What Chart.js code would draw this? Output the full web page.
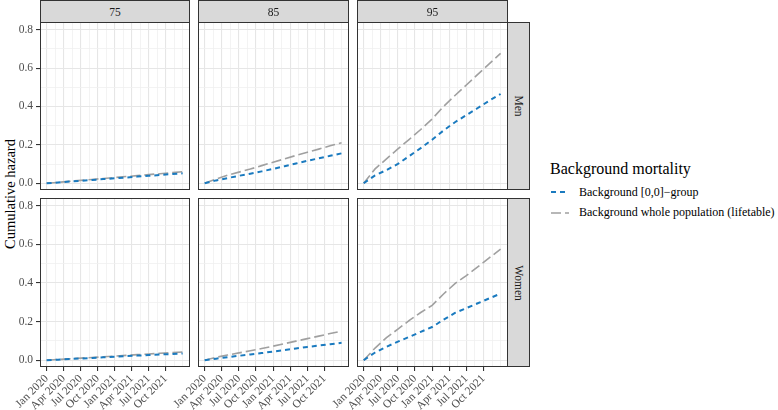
<!DOCTYPE html>
<html>
<head>
<meta charset="utf-8">
<script src="https://cdn.jsdelivr.net/npm/chart.js@4.4.0/dist/chart.umd.min.js"></script>
<style>
  body { margin: 0; background: #fff; font-family: "Liberation Serif", "Times New Roman", Times, "DejaVu Serif", serif; }
  #wrap { position: relative; width: 778px; height: 410px; overflow: hidden; }
  .box { position: absolute; }
  .strip { position: absolute; background: #d9d9d9; border: 1px solid #333; box-sizing: border-box;
           color: #1a1a1a; font-size: 11.5px; display: flex; align-items: center; justify-content: center; }
  .strip.v span { display: inline-block; transform: rotate(90deg); white-space: nowrap; }
  #ytitle { position: absolute; left: -90px; top: 185px; width: 200px; height: 18px; line-height: 18px;
            text-align: center; font-size: 14.5px; color: #000; transform: rotate(-90deg); }
  #legend { position: absolute; left: 550px; top: 160px; color: #000; }
  #legend .title { font-size: 16px; line-height: 18px; margin-bottom: 4px; white-space: nowrap; }
  #legend .item { display: flex; align-items: center; height: 20.5px; font-size: 12px; white-space: nowrap; }
  #legend svg { margin-left: 1px; margin-right: 10px; }
</style>
</head>
<body>
<div id="wrap">
  <div id="ytitle">Cumulative hazard</div>
  <div id="legend"></div>
</div>
<script>
// months since Jan 2020
const months = [0, 2, 4, 6, 8, 10, 12, 14, 16, 18, 20, 22, 24];

const ageGroups = ['75', '85', '95'];
const sexes = ['Men', 'Women'];
const seriesNames = ['Background [0,0]\u2212group', 'Background whole population (lifetable)'];

// Men, background [0,0]-group
const men75Group = [0, 0.004, 0.009, 0.013, 0.017, 0.022, 0.026, 0.030, 0.035, 0.039, 0.043, 0.048, 0.052];
const men85Group = [0, 0.015, 0.027, 0.039, 0.050, 0.062, 0.075, 0.089, 0.103, 0.117, 0.130, 0.143, 0.156];
const men95Group = [0, 0.041, 0.069, 0.101, 0.142, 0.183, 0.227, 0.275, 0.318, 0.355, 0.392, 0.430, 0.465];
// Men, whole population lifetable
const men75Life = [0, 0.005, 0.010, 0.015, 0.020, 0.025, 0.030, 0.035, 0.040, 0.045, 0.050, 0.055, 0.060];
const men85Life = [0, 0.022, 0.042, 0.058, 0.074, 0.092, 0.110, 0.127, 0.145, 0.162, 0.178, 0.195, 0.211];
const men95Life = [0, 0.075, 0.127, 0.179, 0.229, 0.280, 0.335, 0.400, 0.457, 0.512, 0.567, 0.622, 0.677];
// Women, background [0,0]-group
const women75Group = [0, 0.003, 0.006, 0.009, 0.012, 0.015, 0.018, 0.021, 0.024, 0.027, 0.030, 0.032, 0.035];
const women85Group = [0, 0.008, 0.016, 0.023, 0.030, 0.037, 0.045, 0.053, 0.061, 0.069, 0.076, 0.083, 0.090];
const women95Group = [0, 0.040, 0.070, 0.096, 0.121, 0.147, 0.172, 0.210, 0.245, 0.270, 0.295, 0.320, 0.345];
// Women, whole population lifetable
const women75Life = [0, 0.004, 0.007, 0.011, 0.014, 0.018, 0.021, 0.025, 0.029, 0.032, 0.036, 0.039, 0.043];
const women85Life = [0, 0.015, 0.027, 0.038, 0.049, 0.061, 0.073, 0.086, 0.099, 0.112, 0.125, 0.138, 0.151];
const women95Life = [0, 0.063, 0.117, 0.161, 0.206, 0.247, 0.284, 0.343, 0.397, 0.438, 0.483, 0.530, 0.575];

const xTickMonths = [0, 3, 6, 9, 12, 15, 18, 21];
const xTickLabels = ['Jan 2020', 'Apr 2020', 'Jul 2020', 'Oct 2020', 'Jan 2021', 'Apr 2021', 'Jul 2021', 'Oct 2021'];
const xMinorMonths = [1.5, 4.5, 7.5, 10.5, 13.5, 16.5, 19.5, 22.5, 24];
const yTicks = [0, 0.2, 0.4, 0.6, 0.8];
const yTickLabels = ['0.0', '0.2', '0.4', '0.6', '0.8'];
const yMinor = [0.1, 0.3, 0.5, 0.7];

const groupData = [[men75Group, men85Group, men95Group], [women75Group, women85Group, women95Group]];
const lifeData = [[men75Life, men85Life, men95Life], [women75Life, women85Life, women95Life]];

const blue = '#1a7abf';
const grey = '#a0a0a0';
const font = { family: '"Liberation Serif", "Times New Roman", "DejaVu Serif", serif', size: 11.5 };

// panel geometry (px)
const colX = [[40, 190], [198, 349], [357, 508]];
const rowY = [[22, 190], [198, 367]];
const H = 410;

const wrap = document.getElementById('wrap');

const panelBorder = {
  id: 'panelBorder',
  afterDraw(chart) {
    const { ctx, chartArea: a } = chart;
    ctx.save();
    ctx.strokeStyle = '#333';
    ctx.lineWidth = 1;
    ctx.strokeRect(a.left + 0.5, a.top + 0.5, a.right - a.left - 1, a.bottom - a.top - 1);
    ctx.restore();
  }
};

const xAll = xTickMonths.concat(xMinorMonths).sort((a, b) => a - b);
const yAll = yTicks.concat(yMinor).sort((a, b) => a - b);

function makePanel(r, c) {
  const left = c === 0 ? 0 : (r === 1 ? colX[c][0] - 45 : colX[c][0]);
  const padLeft = c === 0 ? 0 : (r === 1 ? 45 : 0);
  const yWidth = c === 0 ? 40 : 0;
  const top = rowY[r][0];
  const height = r === 1 ? H - top : rowY[r][1] - top;
  const xHeight = r === 1 ? H - rowY[r][1] : 0;
  const width = colX[c][1] - left;

  const box = document.createElement('div');
  box.className = 'box';
  Object.assign(box.style, { left: left + 'px', top: top + 'px', width: width + 'px', height: height + 'px' });
  const cv = document.createElement('canvas');
  box.appendChild(cv);
  wrap.appendChild(box);

  const showX = r === 1;
  const showY = c === 0;

  new Chart(cv, {
    type: 'line',
    data: {
      datasets: [
        {
          label: seriesNames[0],
          data: months.map((m, i) => ({ x: m, y: groupData[r][c][i] })),
          borderColor: blue, borderWidth: 2, borderDash: [5, 4],
          pointRadius: 0, tension: 0, fill: false
        },
        {
          label: seriesNames[1],
          data: months.map((m, i) => ({ x: m, y: lifeData[r][c][i] })),
          borderColor: grey, borderWidth: 1.6, borderDash: [10, 4],
          pointRadius: 0, tension: 0, fill: false
        }
      ]
    },
    options: {
      responsive: true,
      maintainAspectRatio: false,
      animation: false,
      layout: { padding: { left: padLeft, right: 0, top: 0, bottom: 0 } },
      plugins: { legend: { display: false }, tooltip: { enabled: false } },
      scales: {
        x: {
          type: 'linear', min: -1.17, max: 25.3, bounds: 'data',
          afterBuildTicks: s => { s.ticks = xAll.map(v => ({ value: v })); },
          afterFit: s => { s.height = xHeight; s.paddingLeft = 0; s.paddingRight = 0; },
          border: { display: false },
          grid: {
            color: ctx => xTickMonths.includes(ctx.tick.value) ? '#e6e6e6' : '#f0f0f0',
            lineWidth: ctx => xTickMonths.includes(ctx.tick.value) ? 1.1 : 0.8,
            drawTicks: showX, tickLength: 4,
            tickColor: ctx => xTickMonths.includes(ctx.tick.value) ? '#333' : 'rgba(0,0,0,0)'
          },
          ticks: {
            display: showX, autoSkip: false, maxRotation: 45, minRotation: 45, padding: 1,
            color: '#4d4d4d', font: font,
            callback: v => { const i = xTickMonths.indexOf(v); return i >= 0 ? xTickLabels[i] : ''; }
          }
        },
        y: {
          type: 'linear', min: -0.035, max: 0.84, bounds: 'data',
          afterBuildTicks: s => { s.ticks = yAll.map(v => ({ value: v })); },
          afterFit: s => { s.width = yWidth; s.paddingTop = 0; s.paddingBottom = 0; },
          border: { display: false },
          grid: {
            color: ctx => yTicks.includes(ctx.tick.value) ? '#e6e6e6' : '#f0f0f0',
            lineWidth: ctx => yTicks.includes(ctx.tick.value) ? 1.1 : 0.8,
            drawTicks: showY, tickLength: 4,
            tickColor: ctx => yTicks.includes(ctx.tick.value) ? '#333' : 'rgba(0,0,0,0)'
          },
          ticks: {
            display: showY, autoSkip: false, padding: 3,
            color: '#4d4d4d', font: font,
            callback: v => { const i = yTicks.indexOf(v); return i >= 0 ? yTickLabels[i] : ''; }
          }
        }
      }
    },
    plugins: [panelBorder]
  });
}

for (let r = 0; r < sexes.length; r++) {
  for (let c = 0; c < ageGroups.length; c++) makePanel(r, c);
}

// facet strips
ageGroups.forEach((a, c) => {
  const s = document.createElement('div');
  s.className = 'strip';
  Object.assign(s.style, { left: colX[c][0] + 'px', top: '0px', width: (colX[c][1] - colX[c][0]) + 'px', height: (rowY[0][0] + 1) + 'px' });
  s.textContent = a;
  wrap.appendChild(s);
});
sexes.forEach((sx, r) => {
  const s = document.createElement('div');
  s.className = 'strip v';
  Object.assign(s.style, { left: (colX[2][1] - 1) + 'px', top: rowY[r][0] + 'px', width: '23px', height: (rowY[r][1] - rowY[r][0]) + 'px' });
  const sp = document.createElement('span');
  sp.textContent = sx;
  s.appendChild(sp);
  wrap.appendChild(s);
});

// legend
const legend = document.getElementById('legend');
legend.innerHTML = '<div class="title">Background mortality</div>';
[[blue, '5 4', 2], [grey, '10 4', 1.6]].forEach(([col, dash, w], i) => {
  const it = document.createElement('div');
  it.className = 'item';
  it.innerHTML = '<svg width="18" height="12"><line x1="0" y1="6" x2="18" y2="6" stroke="' + col +
    '" stroke-width="' + w + '" stroke-dasharray="' + dash + '"/></svg><span>' + seriesNames[i] + '</span>';
  legend.appendChild(it);
});
</script>
</body>
</html>
